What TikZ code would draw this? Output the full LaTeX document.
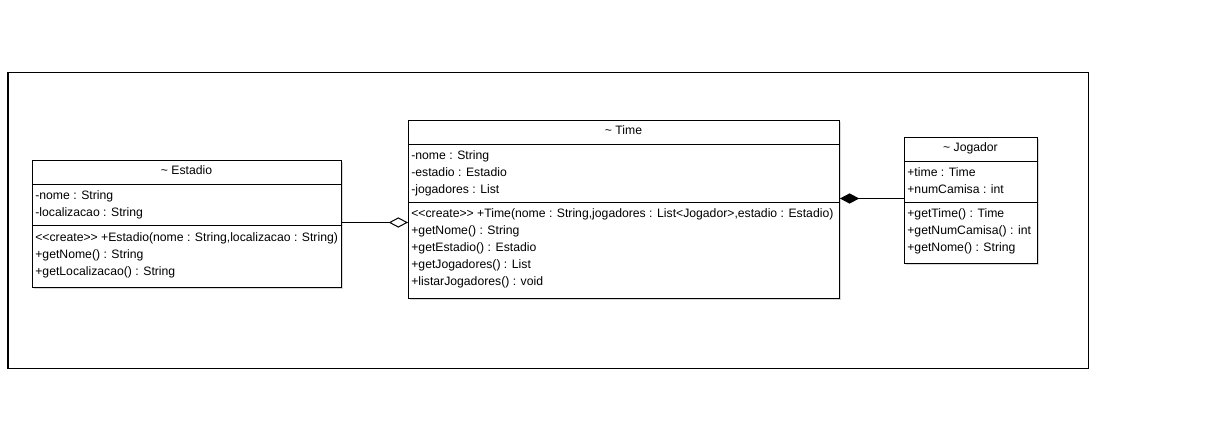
\documentclass[tikz,border=0pt]{standalone}
\usepackage{fontspec}
\newfontfamily\umlfont{Liberation Sans}
\usetikzlibrary{positioning, arrows.meta, shadows}

\tikzset{
  umlbox/.style={draw, line width=0.57pt, fill=white, anchor=north west, inner sep=0pt,
    drop shadow={shadow xshift=0.7pt, shadow yshift=-0.7pt, opacity=0.3}},
  umltext/.style={anchor=base west, inner sep=0pt, font=\umlfont\fontsize{6.95}{8}\selectfont},
  umltitle/.style={umltext, anchor=base},
  divider/.style={line width=0.57pt},
  aggr/.style={-{Diamond[open, length=11pt, width=5.8pt]}, line width=0.57pt},
  comp/.style={-{Diamond[length=11pt, width=5.8pt]}, line width=0.57pt},
}

\begin{document}
\begin{tikzpicture}[x=0.02cm, y=-0.02cm]
\useasboundingbox (0,0) rectangle (1224,440);
\draw[line width=0.57pt] (8,72) rectangle (1088,368);

% class boxes
\node[umlbox, minimum width=6.18cm, minimum height=2.54cm] (estadio) at (32,160) {};
\node[umlbox, minimum width=8.62cm, minimum height=3.56cm] (time) at (408,120) {};
\node[umlbox, minimum width=2.66cm, minimum height=2.52cm] (jogador) at (904,137) {};

% compartments
\draw[divider] (32,184) -- (341,184) (32,225) -- (341,225);
\draw[divider] (408,144) -- (839,144) (408,202) -- (839,202);
\draw[divider] (904,161) -- (1037,161) (904,202) -- (1037,202);

% Estadio
\node[umltitle] (esttitle) at (186.5,174) {\textasciitilde{} Estadio};
\foreach \txt [count=\i] in {{-nome : String}, {-localizacao : String}}
  \node[umltext] (estattr\i) at (35,182+17*\i) {\txt};
\foreach \txt [count=\i] in {{<<create>> +Estadio(nome : String,localizacao : String)},
    {+getNome() : String}, {+getLocalizacao() : String}}
  \node[umltext] (estop\i) at (35,224.5+17*\i) {\txt};

% Time
\node[umltitle] (timetitle) at (623.5,134) {\textasciitilde{} Time};
\foreach \txt [count=\i] in {{-nome : String}, {-estadio : Estadio}, {-jogadores : List}}
  \node[umltext] (timeattr\i) at (411,142+17*\i) {\txt};
\foreach \txt [count=\i] in {{<<create>> +Time(nome : String,jogadores : List<Jogador>,estadio : Estadio)},
    {+getNome() : String}, {+getEstadio() : Estadio}, {+getJogadores() : List},
    {+listarJogadores() : void}}
  \node[umltext] (timeop\i) at (411,201+16.8*\i) {\txt};

% Jogador
\node[umltitle] (jogtitle) at (970.5,151) {\textasciitilde{} Jogador};
\foreach \txt [count=\i] in {{+time : Time}, {+numCamisa : int}}
  \node[umltext] (jogattr\i) at (907,159+17*\i) {\txt};
\foreach \txt [count=\i] in {{+getTime() : Time}, {+getNumCamisa() : int}, {+getNome() : String}}
  \node[umltext] (jogop\i) at (907,200+17*\i) {\txt};

% relations
\draw[aggr] (estadio.east) ++(0,-1.5) coordinate (aggrstart) -- (aggrstart -| time.west);
\draw[comp] (jogador.west) ++(0,-2) coordinate (compstart) -- (compstart -| time.east);
\end{tikzpicture}
\end{document}
